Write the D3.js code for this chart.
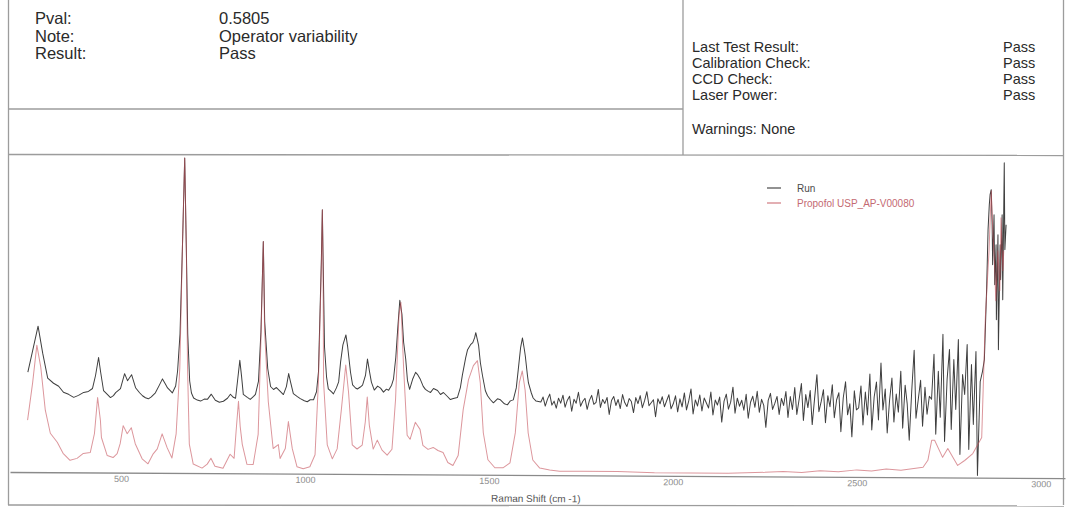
<!DOCTYPE html>
<html>
<head>
<meta charset="utf-8">
<script src="https://cdn.jsdelivr.net/npm/d3@7"></script>
<style>
  body { margin: 0; background: #fff; }
  svg { display: block; }
  text { font-family: "Liberation Sans", Arial, sans-serif; }
</style>
</head>
<body>
<svg id="report" width="1070" height="511"></svg>
<script>
// ---- report header ----
const summaryLabels = ["Pval:", "Note:", "Result:"];
const summaryValues = ["0.5805", "Operator variability", "Pass"];
const checkLabels = ["Last Test Result:", "Calibration Check:", "CCD Check:", "Laser Power:"];
const checkValues = ["Pass", "Pass", "Pass", "Pass"];
const warningText = "Warnings: None";

// ---- chart axis ----
const shiftTicks = [500, 1000, 1500, 2000, 2500, 3000];
const axisTitle = "Raman Shift (cm -1)";
const seriesNames = ["Run", "Propofol USP_AP-V00080"];

// ---- Run spectrum: band region ----
const runShift = [245,258,272,285,299,315,329,342,356,370,383,397,410,421,429,437,443,451,462,470,
  478,484,497,508,516,527,538,549,557,565,573,581,592,603,611,619,625,633,638,647,
  652,658,663,668,674,679,685,690,696,706,715,725,734,744,755,766,777,788,796,804,
  810,815,821,826,831,842,850,859,864,872,878,883,888,897,905,913,921,932,940,948,
  954,959,967,978,986,997,1005,1013,1022,1030,1035,1041,1043,1046,1051,1057,1062,1071,1076,1084,
  1090,1095,1101,1109,1114,1122,1128,1136,1141,1149,1155,1163,1168,1174,1179,1187,1196,1204,1212,1220,
  1226,1234,1239,1245,1250,1255,1261,1266,1272,1277,1283,1291,1299,1304,1312,1320,1326,1334,1340,1348,
  1359,1367,1375,1386,1394,1402,1413,1421,1426,1435,1440,1448,1454,1459,1462,1467,1470,1475,1481,1489,
  1495,1503,1511,1522,1530,1541,1549,1557,1565,1573,1578,1584,1589,1595,1597,1603,1606,1614,1619,1627];
const runIntensity = [98,120,144,117,92,87,84,78,76,73,75,78,79,82,95,113,98,80,76,73,
  75,78,82,97,90,96,83,78,75,73,72,74,78,86,92,87,83,80,78,85,
  100,137,220,313,220,137,90,78,73,71,70,72,72,77,71,69,70,73,77,74,
  73,90,111,95,77,74,72,75,77,90,140,230,150,103,85,82,84,80,77,85,
  98,90,78,75,73,71,70,72,72,80,100,210,262,210,125,95,83,80,78,84,
  90,110,127,137,125,100,87,84,83,85,87,97,113,100,90,82,86,84,80,83,
  82,87,93,115,145,172,158,130,113,92,83,93,100,98,93,86,83,81,80,84,
  82,78,80,76,73,74,75,85,97,115,123,128,130,135,140,132,127,110,97,82,
  77,73,70,74,73,69,68,72,73,85,103,125,135,122,117,98,90,80,75,72];

// ---- Run spectrum: noisy baseline region ----
const runNoiseShift = [1640,1646,1652,1658,1664,1670,1676,1682,1688,1694,
  1700,1706,1712,1718,1724,1730,1736,1742,1748,1754,
  1760,1766,1772,1778,1784,1790,1796,1802,1808,1814,
  1820,1826,1832,1838,1844,1850,1856,1862,1868,1874,
  1880,1886,1892,1898,1904,1910,1916,1922,1928,1934,
  1940,1946,1952,1958,1964,1970,1976,1982,1988,1994,
  2000,2006,2012,2018,2024,2030,2036,2042,2048,2054,
  2060,2066,2072,2078,2084,2090,2096,2102,2108,2114,
  2120,2126,2132,2138,2144,2150,2156,2162,2168,2174,
  2180,2186,2192,2198,2204,2210,2216,2222,2228,2234,
  2240,2246,2252,2258,2264,2270,2276,2282,2288,2294,
  2300,2306,2312,2318,2324,2330,2336,2342,2348,2354,
  2360,2366,2372,2378,2384,2390,2396,2402,2408,2414,
  2420,2426,2432,2438,2444,2450,2456,2462,2468,2474,
  2480,2486,2492,2498,2504,2510,2516,2522,2528,2534,
  2540,2546,2552,2558,2564,2570,2576,2582,2588,2594,
  2600,2606,2612,2618,2624,2630,2636,2642,2648,2654,
  2660,2666,2672,2678,2684,2690,2696,2702,2708,2714,
  2720,2726,2732,2738,2744,2750,2756,2762,2768,2774,
  2780,2786,2792,2798,2804,2810,2816,2822,2828,2834,
  2840];
const runNoiseIntensity = [71,76,67,74,79,68,72,65,75,70,78,66,73,77,62,74,70,81,67,72,
  75,64,73,78,69,71,84,66,74,70,76,59,73,77,68,74,65,79,71,67,
  75,72,61,76,70,78,66,73,82,68,71,74,57,75,70,77,67,73,79,65,
  70,78,62,75,67,81,64,73,85,60,74,68,79,63,76,71,66,82,59,74,
  69,77,52,73,80,65,72,87,61,76,68,74,64,80,56,72,78,67,83,62,
  75,69,47,74,81,65,71,78,60,76,
  69,83,57,78,65,87,60,75,91,54,80,67,84,50,76,100,63,73,85,52,
  79,68,90,57,75,82,43,77,93,60,71,38,84,65,
  67,89,50,83,60,101,45,78,93,55,112,65,86,42,75,97,53,81,63,104,
  47,90,71,35,84,125,57,76,95,49,88,61,79,
  76,121,41,104,58,141,34,96,126,46,116,66,136,21,101,81,131,26,111,51,
  124,0,94,104];

// ---- Run spectrum: C-H stretch region ----
const runTopShift = [2845,2850,2853,2856,2858,2861,2864,2866,2869,2872,2875,2877,2880,2883,2886,2888,2891,2894,2896,2899,2902];
const runTopIntensity = [116,186,246,271,281,286,251,211,261,191,231,156,241,126,231,196,261,176,313,226,251];

// ---- Reference spectrum (Propofol USP) ----
const refShift = [245,258,269,280,293,307,326,342,361,380,397,416,427,435,443,446,462,478,489,497,
  505,516,527,538,557,573,587,598,611,625,638,649,658,663,668,674,679,685,696,720,
  734,744,755,777,796,807,812,818,823,829,842,859,872,878,883,888,899,913,927,932,
  946,954,965,978,995,1013,1027,1035,1041,1043,1046,1049,1060,1074,1087,1098,1109,1117,1128,1141,
  1155,1163,1168,1174,1185,1196,1209,1223,1236,1245,1253,1258,1266,1277,1285,1299,1312,1320,1334,1348,
  1361,1375,1388,1402,1416,1429,1443,1456,1467,1475,1484,1497,1516,1538,1557,1571,1581,1589,1597,1606,
  1619,1638,1665,1692,1750,1850,1950,2050,2150,2250,2300,2350,2400,2450,2500,2540,2580,2620,2660,2680,
  2693,2703,2711,2733,2747,2774,2793,2815,2839,2847,2856,2861,2866,2872,2875,2880,2886,2888,2894,2896];
const refIntensity = [50,87,125,103,60,37,28,17,10,12,17,18,37,73,50,33,15,13,17,27,
  45,37,43,27,12,7,17,22,37,23,13,37,103,220,313,220,103,27,7,3,
  7,13,5,3,17,13,40,70,45,27,7,7,37,130,230,140,70,23,27,13,
  23,50,23,5,3,5,17,90,200,262,200,90,27,13,23,63,107,80,27,23,
  27,50,75,47,23,32,22,17,23,73,157,170,107,37,33,50,43,27,23,25,
  22,20,10,7,17,63,93,107,112,90,40,13,5,5,10,40,90,102,83,40,
  13,5,3,2,2,2,1,1,1,2,3,2,4,3,5,4,6,5,7,8,
  15,35,35,18,27,10,15,22,38,158,225,285,245,205,175,225,185,258,205,225];

const zip = (xs, ys) => xs.map((v, i) => [v, ys[i]]);
const runData = zip(runShift, runIntensity)
  .concat(zip(runNoiseShift, runNoiseIntensity))
  .concat(zip(runTopShift, runTopIntensity));
const refData = zip(refShift, refIntensity);

const svg = d3.select("#report");

// ---- header frame ----
const frame = svg.append("g").attr("stroke", "#9c9c9c").attr("stroke-width", 1.3).attr("fill", "none");
[[8.5, 0, 8.5, 505], [1063.5, 0, 1063.5, 505], [683, 0, 683, 155],
 [8, 109, 683, 109], [8, 154.5, 1064, 155.5], [8, 505, 1064, 506]]
  .forEach(([x1, y1, x2, y2]) => frame.append("line")
    .attr("x1", x1).attr("y1", y1).attr("x2", x2).attr("y2", y2));

const header = svg.append("g").attr("fill", "#2a2a2a");
summaryLabels.forEach((t, i) => {
  header.append("text").attr("x", 35).attr("y", 24 + i * 17.5).attr("font-size", 16.5).text(t);
  header.append("text").attr("x", 219).attr("y", 24 + i * 17.5).attr("font-size", 16.5).text(summaryValues[i]);
});
checkLabels.forEach((t, i) => {
  header.append("text").attr("x", 692).attr("y", 52 + i * 16).attr("font-size", 14.5).text(t);
  header.append("text").attr("x", 1003).attr("y", 52 + i * 16).attr("font-size", 14.5).text(checkValues[i]);
});
header.append("text").attr("x", 692).attr("y", 134).attr("font-size", 14.5).text(warningText);

// ---- spectrum plot ----
const x = d3.scaleLinear().domain([198, 3066]).range([10, 1065]);
const y = d3.scaleLinear().domain([0, 315]).range([470, 155]);

const plot = svg.append("g").attr("transform", "rotate(0.33,10,472)");

const axis = plot.append("g")
  .attr("transform", "translate(0,472)")
  .call(d3.axisBottom(x).tickValues(shiftTicks).tickSize(0).tickPadding(3).tickFormat(d3.format("d")));
axis.select(".domain").attr("stroke", "#8a8a8a").attr("stroke-width", 1.3);
axis.selectAll("text").attr("fill", "#8d8d8d").attr("font-size", 9)
  .attr("font-family", "'Liberation Sans', Arial, sans-serif");

plot.append("text").attr("x", 536).attr("y", 499).attr("text-anchor", "middle")
  .attr("font-size", 10).attr("fill", "#555").text(axisTitle);

const line = d3.line().x(d => x(d[0])).y(d => y(d[1]));

plot.append("path").datum(runData).attr("d", line)
  .attr("fill", "none").attr("stroke", "#3f3f3f").attr("stroke-width", 1)
  .attr("stroke-linejoin", "round");
plot.append("path").datum(refData).attr("d", line)
  .attr("fill", "none").attr("stroke", "#c4505a").attr("stroke-width", 1)
  .attr("stroke-opacity", 0.6).attr("stroke-linejoin", "round");

// ---- legend ----
const legendColors = ["#4a4a4a", "#d07a80"];
const legendText = ["#4a4a4a", "#c46a72"];
const legend = svg.append("g");
seriesNames.forEach((name, i) => {
  legend.append("line").attr("x1", 767).attr("x2", 781).attr("y1", 188 + i * 15).attr("y2", 188 + i * 15)
    .attr("stroke", legendColors[i]).attr("stroke-width", 1.2);
  legend.append("text").attr("x", 797).attr("y", 191.5 + i * 15).attr("font-size", 10)
    .attr("fill", legendText[i]).text(name);
});
</script>
</body>
</html>
